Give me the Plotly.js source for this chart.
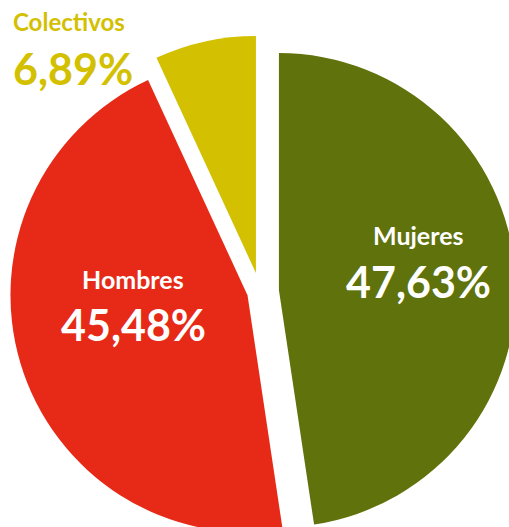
<!DOCTYPE html>
<html>
<head>
<meta charset="utf-8">
<script src="https://cdn.plot.ly/plotly-3.0.1.min.js"></script>
<style>
html,body{margin:0;padding:0;overflow:hidden;background:#fff;}
#chart{width:520px;height:583px;}
</style>
</head>
<body>
<div id="chart"></div>
<script>
var categories = ["Mujeres", "Hombres", "Colectivos"];
var values = [47.63, 45.48, 6.89];
var valueLabels = ["47,63%", "45,48%", "6,89%"];
var colors = ["#60720B", "#E62A17", "#D3C000"];
var pulls = [0.08, 0.055, 0.08];

var W = 520, H = 583, ML = 4, MR = 4;
function px(x){ return (x - ML) / (W - ML - MR); }
function py(y){ return 1 - y / H; }

var labelPos = [
  {x: 418, anchor: "center", y1: 235, y2: 281, c: "#ffffff", s1: 25, s2: 43},
  {x: 133, anchor: "center", y1: 279, y2: 325, c: "#ffffff", s1: 25, s2: 43},
  {x: 11, anchor: "left", y1: 22, y2: 68, c: colors[2], s1: 24, s2: 43}
];
var fontFam = "Lato, 'Open Sans', sans-serif";
var annotations = [];
categories.forEach(function(cat, i){
  var p = labelPos[i];
  annotations.push({xref:"paper", yref:"paper", x:px(p.x), y:py(p.y1), text:"<b>"+cat+"</b>",
    showarrow:false, xanchor:p.anchor, yanchor:"middle", font:{family:fontFam, size:p.s1, color:p.c}});
  annotations.push({xref:"paper", yref:"paper", x:px(p.x), y:py(p.y2), text:"<b>"+valueLabels[i]+"</b>",
    showarrow:false, xanchor:p.anchor, yanchor:"middle", font:{family:fontFam, size:p.s2, color:p.c}});
});

var data = [{
  type: "pie",
  labels: categories,
  values: values,
  sort: false,
  direction: "clockwise",
  rotation: 0,
  pull: pulls,
  textinfo: "none",
  hoverinfo: "label+percent",
  marker: {colors: colors, line: {width: 0}},
  showlegend: false
}];

var layout = {
  width: W, height: H,
  margin: {l: ML, r: MR, t: 0, b: 0, pad: 0},
  paper_bgcolor: "#ffffff",
  plot_bgcolor: "#ffffff",
  showlegend: false,
  annotations: annotations
};

Plotly.newPlot("chart", data, layout, {displayModeBar: false, staticPlot: true});
</script>
</body>
</html>
